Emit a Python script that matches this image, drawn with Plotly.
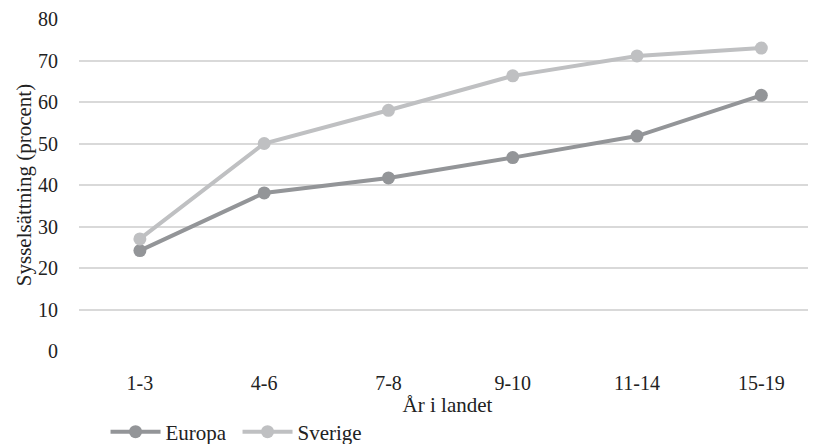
import plotly.graph_objects as go

categories = ["1-3", "4-6", "7-8", "9-10", "11-14", "15-19"]
europa = [24.2, 38.1, 41.7, 46.6, 51.8, 61.6]
sverige = [27.0, 50.0, 58.0, 66.3, 71.1, 73.0]
y_ticks = [0, 10, 20, 30, 40, 50, 60, 70, 80]

FONT = "Liberation Serif"
# the page body adds an 8px offset; figure is sized so the page shows 816x444
fig = go.Figure()
fig.add_trace(go.Scatter(x=categories, y=europa, name="Europa", mode="lines+markers",
                         line=dict(color="#939598", width=4),
                         marker=dict(color="#939598", size=13)))
fig.add_trace(go.Scatter(x=categories, y=sverige, name="Sverige", mode="lines+markers",
                         line=dict(color="#BFC0C2", width=4),
                         marker=dict(color="#BFC0C2", size=13)))

fig.update_layout(
    width=808, height=436,
    margin=dict(l=71, r=0, t=11, b=93, autoexpand=False),
    plot_bgcolor="white", paper_bgcolor="white",
    font=dict(family=FONT, size=20, color="#222222"),
    xaxis=dict(type="category", range=[-0.49, 5.44], showgrid=False, zeroline=False,
               showline=False, ticks="", ticklabelstandoff=18, automargin=False,
               tickfont=dict(size=20),
               title=dict(text="År i landet", standoff=4, font=dict(size=21))),
    yaxis=dict(range=[0, 80], tickvals=y_ticks, showgrid=True, gridcolor="#D9D9D9",
               gridwidth=1.5, zeroline=False, showline=False, ticks="",
               ticklabelstandoff=20, automargin=False, tickfont=dict(size=20),
               title=dict(text="Sysselsättning (procent)", standoff=0, font=dict(size=21))),
    legend=dict(orientation="h", x=0.036, xanchor="left", y=-0.244, yanchor="middle",
                font=dict(size=21), itemwidth=50, entrywidth=67, tracegroupgap=0),
    showlegend=True,
)
fig.write_html("out.html")
